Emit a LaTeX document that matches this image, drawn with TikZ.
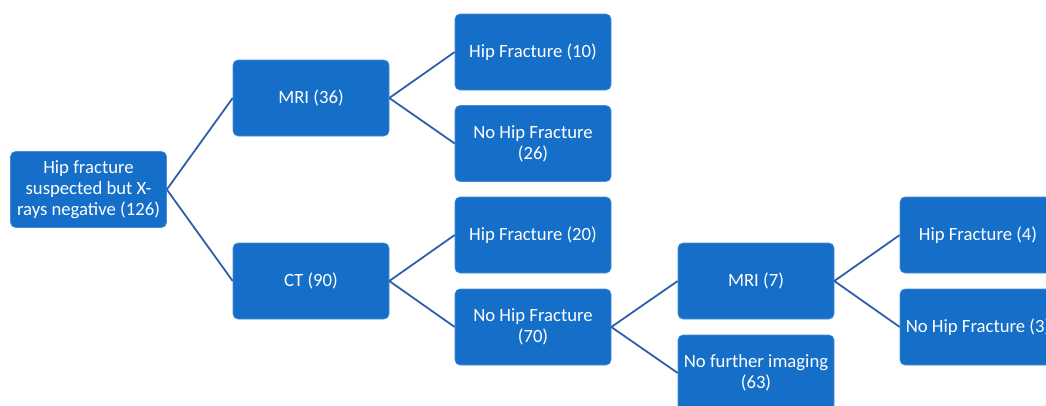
\documentclass[tikz,border=0pt]{standalone}
\usepackage{fontspec}
\setmainfont{Carlito}
\definecolor{boxblue}{RGB}{21,111,200}
\definecolor{boxedge}{RGB}{70,140,215}
\definecolor{linkblue}{RGB}{45,96,170}
\begin{document}
\begin{tikzpicture}[x=1pt,y=-1pt,
  box/.style={rectangle, rounded corners=5pt, fill=boxblue, draw=boxedge, line width=0.6pt,
    minimum width=156pt, minimum height=76pt, inner sep=2pt, text=white, align=center,
    font=\fontsize{18.7pt}{21pt}\selectfont},
  link/.style={draw=linkblue, line width=1.8pt}]
\useasboundingbox (0,0) rectangle (1046,405);
\clip (0,0) rectangle (1046,405);
\node[box] (root) at (88.5,189.5) {Hip fracture\\suspected but X-\\rays negative (126)};
\node[box] (mri) at (311,98) {MRI (36)};
\node[box] (ct) at (311,281) {CT (90)};
\node[box] (hf10) at (533,52) {Hip Fracture (10)};
\node[box] (nhf26) at (533,143.5) {No Hip Fracture\\(26)};
\node[box] (hf20) at (533,235) {Hip Fracture (20)};
\node[box] (nhf70) at (533,327) {No Hip Fracture\\(70)};
\node[box] (mri7) at (756,281) {MRI (7)};
\node[box] (nfi) at (756,373) {No further imaging\\(63)};
\node[box] (hf4) at (978,235) {Hip Fracture (4)};
\node[box] (nhf3) at (978,327) {No Hip Fracture (3)};
\draw[link] (root.east) -- (mri.west);
\draw[link] (root.east) -- (ct.west);
\draw[link] (mri.east) -- (hf10.west);
\draw[link] (mri.east) -- (nhf26.west);
\draw[link] (ct.east) -- (hf20.west);
\draw[link] (ct.east) -- (nhf70.west);
\draw[link] (nhf70.east) -- (mri7.west);
\draw[link] (nhf70.east) -- (nfi.west);
\draw[link] (mri7.east) -- (hf4.west);
\draw[link] (mri7.east) -- (nhf3.west);
\end{tikzpicture}
\end{document}
